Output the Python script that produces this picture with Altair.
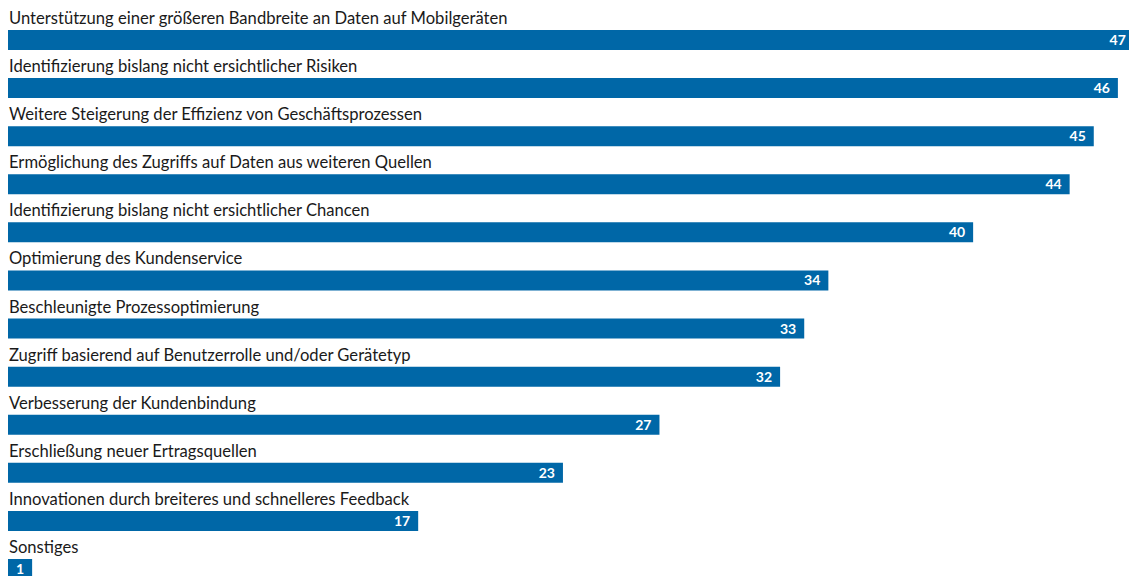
import altair as alt
import pandas as pd

categories = [
    "Unterstützung einer größeren Bandbreite an Daten auf Mobilgeräten",
    "Identifizierung bislang nicht ersichtlicher Risiken",
    "Weitere Steigerung der Effizienz von Geschäftsprozessen",
    "Ermöglichung des Zugriffs auf Daten aus weiteren Quellen",
    "Identifizierung bislang nicht ersichtlicher Chancen",
    "Optimierung des Kundenservice",
    "Beschleunigte Prozessoptimierung",
    "Zugriff basierend auf Benutzerrolle und/oder Gerätetyp",
    "Verbesserung der Kundenbindung",
    "Erschließung neuer Ertragsquellen",
    "Innovationen durch breiteres und schnelleres Feedback",
    "Sonstiges",
]
values = [47, 46, 45, 44, 40, 34, 33, 32, 27, 23, 17, 1]

df = pd.DataFrame({"category": categories, "value": values})

FONT = "Lato"
BLUE = "#0067a7"
XMAX = 46.46

y = alt.Y(
    "category:N",
    sort=None,
    axis=None,
    scale=alt.Scale(range=[30, 579], paddingInner=0.5845, paddingOuter=0),
)
xscale = alt.Scale(domain=[0, XMAX], nice=False, zero=True)

base = alt.Chart(df)

bars = base.mark_bar(color=BLUE, clip=True).encode(
    x=alt.X("value:Q", scale=xscale, axis=None),
    y=y,
)

values_text = base.transform_calculate(
    labelpos=f"min(datum.value, {XMAX} + 0.2)"
).mark_text(
    align="right", baseline="alphabetic", dx=-8, dy=5,
    font=FONT, fontSize=14, fontWeight="bold", color="white",
).encode(
    x=alt.X("labelpos:Q", scale=xscale, axis=None),
    y=y,
    text=alt.Text("value:Q"),
)

labels = base.mark_text(
    align="left", baseline="alphabetic", dy=-16,
    font=FONT, fontSize=16.6, color="#1a1a1a",
).encode(
    x=alt.value(1),
    y=y,
    text="category:N",
)

chart = (
    alt.layer(bars, values_text, labels)
    .properties(
        width=1121,
        height=576,
        padding={"left": 8, "right": 0, "top": 0, "bottom": 0},
        autosize=alt.AutoSizeParams(type="none"),
        background="white",
    )
    .configure_view(stroke=None)
)

chart.save("out.html", embed_options={"renderer": "svg", "actions": False})
